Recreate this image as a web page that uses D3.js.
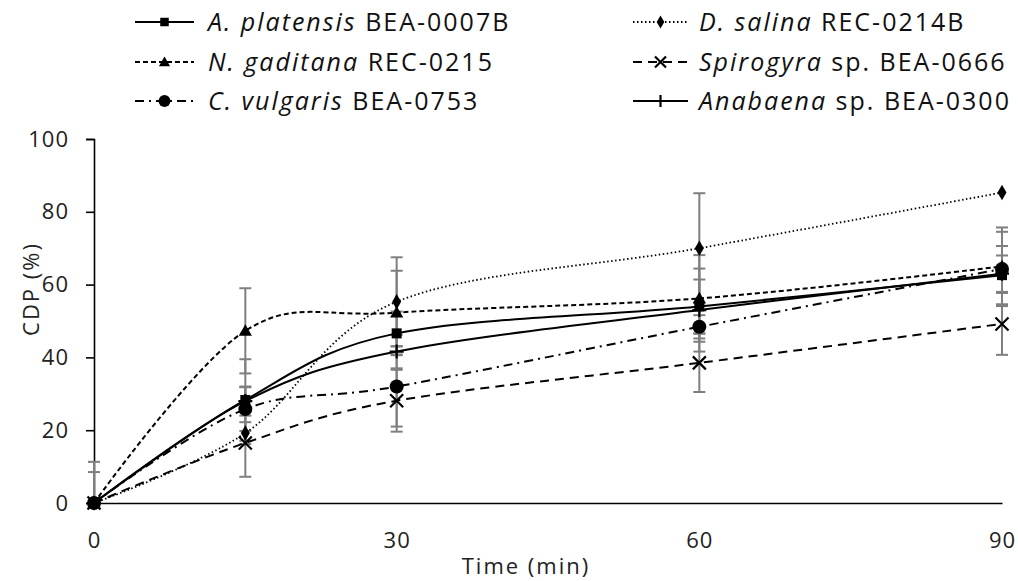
<!DOCTYPE html>
<html>
<head>
<meta charset="utf-8">
<script src="https://cdn.jsdelivr.net/npm/d3@7"></script>
<style>
    body { margin: 0; background: #fff; }
    svg { font-family: "Open Sans", sans-serif; }
</style>
</head>
<body>
<svg id="chart" width="1018" height="581"></svg>
<script>
// time points (min)
var times = [0, 15, 30, 60, 90];
var yTicks = [0, 20, 40, 60, 80, 100];
var xTicks = [0, 30, 60, 90];

// CDP (%) per strain
var platensis = [0, 28.3, 46.6, 54.0, 62.6];
var salina = [0, 19.2, 55.3, 70.0, 85.3];
var gaditana = [0, 47.3, 52.3, 56.2, 65.0];
var spirogyra = [0, 16.5, 28.1, 38.5, 49.2];
var vulgaris = [0, 25.8, 32.0, 48.4, 64.3];
var anabaena = [0, 28.0, 41.6, 53.0, 63.0];

// error bar half widths
var platensisErr = [0, 11.2, 6.0, 7.4, 8.0];
var salinaErr = [0, 3.0, 12.2, 15.1, 0];
var gaditanaErr = [11.3, 11.7, 11.5, 11.9, 10.7];
var spirogyraErr = [0, 9.3, 8.5, 8.0, 8.5];
var vulgarisErr = [8.5, 6.0, 11.0, 3.2, 10.2];
var anabaenaErr = [0, 4.0, 4.6, 11.4, 5.0];

var names = [
    ["A. platensis", " BEA-0007B"],
    ["D. salina", " REC-0214B"],
    ["N. gaditana", " REC-0215"],
    ["Spirogyra", " sp. BEA-0666"],
    ["C. vulgaris", " BEA-0753"],
    ["Anabaena", " sp. BEA-0300"]
];

var series = [
    { name: names[0], values: platensis, err: platensisErr, marker: "square", dash: null, width: 2 },
    { name: names[1], values: salina, err: salinaErr, marker: "diamond", dash: "1.5,2.5", width: 1.8 },
    { name: names[2], values: gaditana, err: gaditanaErr, marker: "triangle", dash: "5,3", width: 2 },
    { name: names[3], values: spirogyra, err: spirogyraErr, marker: "cross", dash: "9,6", width: 2 },
    { name: names[4], values: vulgaris, err: vulgarisErr, marker: "circle", dash: "9,5,2,5", width: 2 },
    { name: names[5], values: anabaena, err: anabaenaErr, marker: "plus", dash: null, width: 2 }
];

var svg = d3.select("#chart");

var x = d3.scaleLinear().domain([0, 90]).range([94, 1002]);
var y = d3.scaleLinear().domain([0, 100]).range([503, 139]);

// clip so error bars do not go below the axis
svg.append("defs").append("clipPath").attr("id", "plotClip")
    .append("rect")
    .attr("x", 0).attr("y", 0)
    .attr("width", 1018).attr("height", y(0));

// Axes
var yAxis = svg.append("g")
    .attr("transform", "translate(" + x(0) + ",0)")
    .call(d3.axisLeft(y).tickValues(yTicks).tickSize(8).tickPadding(17).tickFormat(d3.format("d")));
yAxis.select(".domain").attr("stroke", "#000").attr("stroke-width", 1.6);
yAxis.selectAll(".tick line").attr("stroke", "#000").attr("stroke-width", 1.6);
yAxis.selectAll("text").attr("font-size", 22).attr("letter-spacing", 1).attr("fill", "#222").attr("font-family", "Open Sans");

var xAxis = svg.append("g")
    .attr("transform", "translate(0," + y(0) + ")")
    .call(d3.axisBottom(x).tickValues(xTicks).tickSize(0).tickPadding(29).tickFormat(d3.format("d")));
xAxis.select(".domain").attr("stroke", "#000").attr("stroke-width", 1.6);
xAxis.selectAll("text").attr("font-size", 22).attr("letter-spacing", 1).attr("fill", "#222").attr("font-family", "Open Sans");

// axis titles
svg.append("text")
    .attr("transform", "translate(39,289) rotate(-90)")
    .attr("text-anchor", "middle")
    .attr("font-size", 22)
    .attr("letter-spacing", 2)
    .attr("fill", "#222")
    .text("CDP (%)");

svg.append("text")
    .attr("x", 526)
    .attr("y", 574)
    .attr("text-anchor", "middle")
    .attr("font-size", 22)
    .attr("letter-spacing", 2)
    .attr("fill", "#222")
    .text("Time (min)");

// error bars first, under the lines
var errG = svg.append("g").attr("clip-path", "url(#plotClip)");
series.forEach(function (s) {
    s.values.forEach(function (v, i) {
        var e = s.err[i];
        if (e <= 0) return;
        var cx = x(times[i]);
        errG.append("line")
            .attr("x1", cx).attr("x2", cx)
            .attr("y1", y(v - e)).attr("y2", y(v + e))
            .attr("stroke", "#7f7f7f").attr("stroke-width", 2);
        [v - e, v + e].forEach(function (c) {
            errG.append("line")
                .attr("x1", cx - 6).attr("x2", cx + 6)
                .attr("y1", y(c)).attr("y2", y(c))
                .attr("stroke", "#7f7f7f").attr("stroke-width", 2);
        });
    });
});

// smoothed lines
var line = d3.line()
    .x(function (d, i) { return x(times[i]); })
    .y(function (d) { return y(d); })
    .curve(d3.curveCardinal.tension(0));

var lineG = svg.append("g");
series.forEach(function (s) {
    lineG.append("path")
        .attr("d", line(s.values))
        .attr("fill", "none")
        .attr("stroke", "#000")
        .attr("stroke-width", s.width)
        .attr("stroke-dasharray", s.dash);
});

// marker drawing
function drawMarker(g, type, cx, cy, scale) {
    var k = scale || 1;
    if (type === "square") {
        g.append("rect").attr("x", cx - 5 * k).attr("y", cy - 5 * k)
            .attr("width", 10 * k).attr("height", 10 * k).attr("fill", "#000");
    } else if (type === "diamond") {
        g.append("path").attr("d", d3.symbol(d3.symbolDiamond, 70 * k * k)())
            .attr("transform", "translate(" + cx + "," + cy + ")").attr("fill", "#000");
    } else if (type === "triangle") {
        g.append("path").attr("d", d3.symbol(d3.symbolTriangle, 75 * k * k)())
            .attr("transform", "translate(" + cx + "," + (cy + 1) + ")").attr("fill", "#000");
    } else if (type === "circle") {
        g.append("circle").attr("cx", cx).attr("cy", cy).attr("r", 7 * k).attr("fill", "#000");
    } else if (type === "cross") {
        var r = 6.5 * k;
        g.append("path")
            .attr("d", "M" + (cx - r) + "," + (cy - r) + "L" + (cx + r) + "," + (cy + r) +
                "M" + (cx - r) + "," + (cy + r) + "L" + (cx + r) + "," + (cy - r))
            .attr("stroke", "#000").attr("stroke-width", 2.2);
    } else if (type === "plus") {
        var p = 7 * k;
        g.append("path")
            .attr("d", "M" + (cx - p) + "," + cy + "L" + (cx + p) + "," + cy +
                "M" + cx + "," + (cy - p) + "L" + cx + "," + (cy + p))
            .attr("stroke", "#000").attr("stroke-width", 2.2);
    }
}

var markG = svg.append("g");
series.forEach(function (s) {
    s.values.forEach(function (v, i) {
        drawMarker(markG, s.marker, x(times[i]), y(v));
    });
});

// Legend: two columns, three rows
var legCols = [{ x0: 135, x1: 194, tx: 208 }, { x0: 633, x1: 688, tx: 699 }];
var legRows = [22, 62, 101];
var legend = svg.append("g");
series.forEach(function (s, i) {
    var col = legCols[i % 2];
    var cy = legRows[Math.floor(i / 2)];
    legend.append("line")
        .attr("x1", col.x0).attr("x2", col.x1)
        .attr("y1", cy).attr("y2", cy)
        .attr("stroke", "#000")
        .attr("stroke-width", s.width)
        .attr("stroke-dasharray", s.dash);
    drawMarker(legend, s.marker, (col.x0 + col.x1) / 2, cy, 0.85);
    var t = legend.append("text")
        .attr("x", col.tx)
        .attr("y", cy + 9)
        .attr("font-size", 25)
        .attr("letter-spacing", 2)
        .attr("fill", "#111");
    t.append("tspan").attr("font-style", "italic").text(s.name[0]);
    t.append("tspan").text(s.name[1]);
});
</script>
</body>
</html>
